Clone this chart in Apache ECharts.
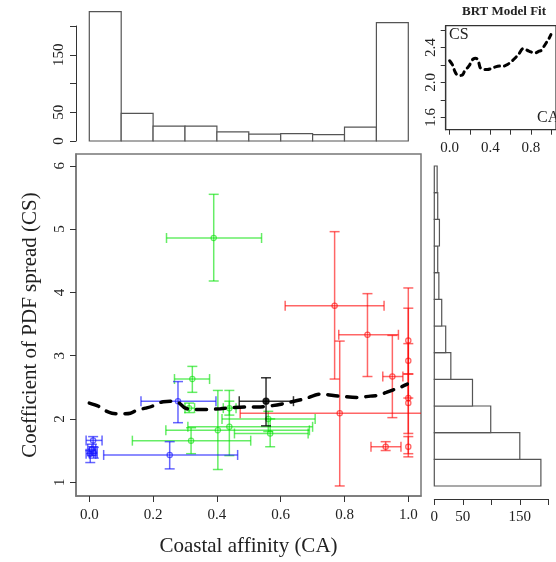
<!DOCTYPE html>
<html><head><meta charset="utf-8">
<script src="https://cdn.jsdelivr.net/npm/echarts@6/dist/echarts.min.js"></script>
<style>html,body{margin:0;padding:0;background:#fff}#c{width:556px;height:562px}</style>
</head><body><div id="c"></div>
<script>
// ---- data ----
// rows: [CA, CS, CA low, CA high, CS low, CS high]
const greenPoints = [
  [0.390, 4.86, 0.242, 0.540, 4.18, 5.55],
  [0.323, 2.63, 0.267, 0.377, 2.42, 2.83],
  [0.319, 1.656, 0.135, 0.506, 1.45, 1.86],
  [0.403, 1.82, 0.240, 0.690, 1.20, 2.45],
  [0.439, 1.875, 0.309, 0.700, 1.42, 2.45],
  [0.439, 2.17, 0.420, 0.460, 2.06, 2.28],
  [0.561, 2.00, 0.416, 0.708, 1.80, 2.12],
  [0.567, 1.77, 0.455, 0.686, 1.56, 2.00],
  [0.313, 2.17, 0.300, 0.330, 2.10, 2.25]
];
const bluePoints = [
  [0.278, 2.28, 0.162, 0.397, 1.94, 2.59],
  [0.252, 1.43, 0.045, 0.465, 1.21, 1.64],
  [0.012, 1.66, -0.010, 0.040, 1.56, 1.72],
  [0.008, 1.52, -0.005, 0.020, 1.42, 1.60],
  [0.003, 1.45, -0.010, 0.020, 1.31, 1.50],
  [0.014, 1.46, 0.000, 0.025, 1.38, 1.55]
];
const blackPoints = [
  [0.554, 2.28, 0.470, 0.640, 1.89, 2.65]
];
const redPoints = [
  [0.769, 3.79, 0.614, 0.924, 2.63, 4.96],
  [0.872, 3.33, 0.782, 0.969, 2.67, 3.98],
  [0.785, 2.09, 0.473, 1.200, 0.94, 3.23],
  [0.950, 2.67, 0.920, 0.983, 2.02, 3.32],
  [0.929, 1.56, 0.883, 0.977, 1.50, 1.64],
  [1.000, 3.24, 1.000, 1.000, 2.71, 4.07],
  [1.000, 2.92, 1.000, 1.000, 2.33, 3.75],
  [1.000, 2.33, 1.000, 1.000, 1.77, 3.19],
  [1.000, 2.25, 1.000, 1.000, 1.45, 2.71],
  [1.000, 1.56, 1.000, 1.000, 1.40, 1.72]
];
// BRT model fit curve
const fitCA = [0, 0.029, 0.05, 0.071, 0.097, 0.129, 0.15, 0.176, 0.197, 0.21, 0.232, 0.254, 0.279, 0.301, 0.332, 0.37, 0.411, 0.451, 0.495, 0.536, 0.574, 0.608, 0.652, 0.677, 0.724, 0.781, 0.84, 0.881, 0.903, 0.931, 0.953, 0.975, 0.997];
const fitCS = [2.25, 2.20, 2.13, 2.09, 2.08, 2.09, 2.14, 2.17, 2.20, 2.24, 2.27, 2.28, 2.26, 2.17, 2.15, 2.15, 2.16, 2.18, 2.19, 2.19, 2.21, 2.24, 2.29, 2.32, 2.39, 2.36, 2.34, 2.36, 2.37, 2.42, 2.46, 2.50, 2.55];
// top histogram (CA)
const topBinEdges = [0, 0.1, 0.2, 0.3, 0.4, 0.5, 0.6, 0.7, 0.8, 0.9, 1.0];
const topCounts = [225, 48, 26, 26, 16, 12, 13, 11, 24, 206];
// right histogram (CS), bins from bottom to top
const rightCounts = [187, 150, 99, 67, 29, 20, 13, 8, 6, 9, 6, 5];
// ticks
const mainXTicks = [0, 0.2, 0.4, 0.6, 0.8, 1.0];
const mainYTicks = [1, 2, 3, 4, 5, 6];
const topHistTicks = [0, 50, 100, 150, 200];
const topHistLabels = [0, 50, 150];
const rightHistTicks = [0, 50, 100, 150, 200];
const rightHistLabels = [0, 50, 150];
const insetXTicks = [0, 0.2, 0.4, 0.6, 0.8, 1.0];
const insetXLabels = [0, 0.4, 0.8];
const insetYTicks = [1.6, 1.8, 2.0, 2.2, 2.4, 2.6];
const insetYLabels = [1.6, 2.0, 2.4];

// ---- chart ----
const SERIF = 'Liberation Serif, DejaVu Serif, serif';
const chart = echarts.init(document.getElementById('c'));

function errBar(color, filled) {
  return function (params, api) {
    const cs = params.coordSys;
    const x = api.value(0), y = api.value(1);
    const xl = api.value(2), xh = api.value(3), yl = api.value(4), yh = api.value(5);
    const p = api.coord([x, y]);
    const L = api.coord([xl, y]), H = api.coord([xh, y]);
    const B = api.coord([x, yl]), T = api.coord([x, yh]);
    const minX = cs.x, maxX = cs.x + cs.width, minY = cs.y, maxY = cs.y + cs.height;
    const st = { stroke: color, lineWidth: 1.5, fill: null };
    const ch = [];
    const cap = 5;
    const y1 = Math.max(minY, Math.min(maxY, T[1])), y2 = Math.max(minY, Math.min(maxY, B[1]));
    ch.push({ type: 'line', shape: { x1: p[0], y1: y1, x2: p[0], y2: y2 }, style: st });
    if (T[1] >= minY) ch.push({ type: 'line', shape: { x1: p[0] - cap, y1: T[1], x2: p[0] + cap, y2: T[1] }, style: st });
    if (B[1] <= maxY) ch.push({ type: 'line', shape: { x1: p[0] - cap, y1: B[1], x2: p[0] + cap, y2: B[1] }, style: st });
    if (H[0] - L[0] > 0.5) {
      const x1 = Math.max(minX, L[0]), x2 = Math.min(maxX, H[0]);
      ch.push({ type: 'line', shape: { x1: x1, y1: p[1], x2: x2, y2: p[1] }, style: st });
      if (L[0] >= minX) ch.push({ type: 'line', shape: { x1: L[0], y1: p[1] - cap, x2: L[0], y2: p[1] + cap }, style: st });
      if (H[0] <= maxX) ch.push({ type: 'line', shape: { x1: H[0], y1: p[1] - cap, x2: H[0], y2: p[1] + cap }, style: st });
    }
    ch.push({ type: 'circle', shape: { cx: p[0], cy: p[1], r: filled ? 3 : 2.6 },
      style: { stroke: color, lineWidth: 1.3, fill: filled ? color : 'rgba(255,255,255,0)' } });
    return { type: 'group', children: ch };
  };
}

function topHistRender(params, api) {
  const i = params.dataIndex;
  const a = api.coord([topBinEdges[i], topCounts[i]]);
  const b = api.coord([topBinEdges[i + 1], 0]);
  return { type: 'rect', shape: { x: a[0], y: a[1], width: b[0] - a[0], height: b[1] - a[1] },
    style: { fill: '#fff', stroke: '#555', lineWidth: 1.2 } };
}
function rightHistRender(params, api) {
  const i = params.dataIndex;
  const a = api.coord([0, i + 1]);
  const b = api.coord([rightCounts[i], i]);
  return { type: 'rect', shape: { x: a[0], y: a[1], width: b[0] - a[0], height: b[1] - a[1] },
    style: { fill: '#fff', stroke: '#555', lineWidth: 1.2 } };
}

const tickStyle = { lineStyle: { color: '#333', width: 1 } };
const labelBase = { fontFamily: SERIF, fontSize: 15, color: '#222' };
const frameLine = { show: true, onZero: false, lineStyle: { color: '#777', width: 1.5 } };
const insetLine = { show: true, onZero: false, lineStyle: { color: '#333', width: 1.2 } };

const option = {
  animation: false,
  backgroundColor: '#fff',
  grid: [
    { left: 76, top: 154, width: 345, height: 346, show: true, borderColor: '#777', borderWidth: 1.5, backgroundColor: 'transparent' },
    { left: 76, top: 26, width: 345, height: 115 },
    { left: 434.3, top: 166, width: 114, height: 320 },
    { left: 445.7, top: 25.7, width: 120, height: 104, show: true, borderColor: '#333', borderWidth: 1.2, backgroundColor: 'transparent' }
  ],
  xAxis: [
    { gridIndex: 0, type: 'value', min: -0.0417, max: 1.0398, splitLine: { show: false },
      axisLine: frameLine,
      axisTick: { show: true, customValues: mainXTicks, length: 6, ...tickStyle },
      axisLabel: { ...labelBase, customValues: mainXTicks, margin: 12, formatter: v => v.toFixed(1) },
      name: 'Coastal affinity (CA)', nameLocation: 'middle', nameGap: 40,
      nameTextStyle: { fontFamily: SERIF, fontSize: 21, color: '#222' } },
    { gridIndex: 1, type: 'value', min: -0.0417, max: 1.0398, show: false, axisLine: { onZero: false } },
    { gridIndex: 2, type: 'value', min: 0, max: 200, position: 'bottom', offset: 13, splitLine: { show: false },
      axisLine: { show: true, onZero: false, lineStyle: { color: '#333', width: 1 } },
      axisTick: { show: true, customValues: rightHistTicks, length: 6, ...tickStyle },
      axisLabel: { ...labelBase, customValues: rightHistLabels, margin: 11 } },
    { gridIndex: 3, type: 'value', min: -0.039, max: 1.047, splitLine: { show: false },
      axisLine: insetLine,
      axisTick: { show: true, customValues: insetXTicks, length: 5, ...tickStyle },
      axisLabel: { ...labelBase, customValues: insetXLabels, margin: 11, formatter: v => v.toFixed(1) } }
  ],
  yAxis: [
    { gridIndex: 0, type: 'value', min: 0.78125, max: 6.1875, splitLine: { show: false },
      axisLine: frameLine,
      axisTick: { show: true, customValues: mainYTicks, length: 6, ...tickStyle },
      axisLabel: { ...labelBase, customValues: mainYTicks, rotate: 90, margin: 8 },
      name: 'Coefficient of PDF spread (CS)', nameLocation: 'middle', nameGap: 35,
      nameTextStyle: { fontFamily: SERIF, fontSize: 21, color: '#222' } },
    { gridIndex: 1, type: 'value', min: 0, max: 200, splitLine: { show: false },
      axisLine: { show: true, onZero: false, lineStyle: { color: '#333', width: 1 } },
      axisTick: { show: true, customValues: topHistTicks, length: 6, ...tickStyle },
      axisLabel: { ...labelBase, customValues: topHistLabels, rotate: 90, margin: 9 } },
    { gridIndex: 2, type: 'value', min: 0, max: rightCounts.length, show: false, axisLine: { onZero: false } },
    { gridIndex: 3, type: 'value', min: 1.457, max: 2.653, splitLine: { show: false },
      axisLine: insetLine,
      axisTick: { show: true, customValues: insetYTicks, length: 5, ...tickStyle },
      axisLabel: { ...labelBase, customValues: insetYLabels, rotate: 90, margin: 7, formatter: v => v.toFixed(1) } }
  ],
  graphic: [
    { type: 'text', left: 462, top: 5, style: { text: 'BRT Model Fit', font: 'bold 13px ' + SERIF, fill: '#222' } },
    { type: 'text', left: 449, top: 27, style: { text: 'CS', font: '16px ' + SERIF, fill: '#222' } },
    { type: 'text', left: 537, top: 110, style: { text: 'CA', font: '16px ' + SERIF, fill: '#222' } }
  ],
  series: [
    { type: 'custom', xAxisIndex: 1, yAxisIndex: 1, clip: false, renderItem: topHistRender,
      data: topCounts.map((c, i) => [topBinEdges[i], c]) },
    { type: 'custom', xAxisIndex: 2, yAxisIndex: 2, renderItem: rightHistRender,
      data: rightCounts.map((c, i) => [c, i]) },
    { type: 'custom', xAxisIndex: 0, yAxisIndex: 0, renderItem: errBar('rgba(0,225,0,0.6)', false), data: greenPoints, z: 3 },
    { type: 'custom', xAxisIndex: 0, yAxisIndex: 0, renderItem: errBar('rgba(20,20,255,0.65)', false), data: bluePoints, z: 3 },
    { type: 'custom', xAxisIndex: 0, yAxisIndex: 0, renderItem: errBar('rgba(255,0,0,0.6)', false), data: redPoints, z: 3 },
    { type: 'custom', xAxisIndex: 0, yAxisIndex: 0, renderItem: errBar('rgba(0,0,0,0.8)', true), data: blackPoints, z: 4 },
    { type: 'line', xAxisIndex: 0, yAxisIndex: 0, data: fitCA.map((v, i) => [v, fitCS[i]]), showSymbol: false, smooth: 0.3,
      lineStyle: { color: '#000', width: 3.5, type: [10, 9], cap: 'round' }, z: 5 },
    { type: 'line', xAxisIndex: 3, yAxisIndex: 3, data: fitCA.map((v, i) => [v, fitCS[i]]), showSymbol: false, smooth: 0.3,
      lineStyle: { color: '#000', width: 3, type: [5, 5], cap: 'round' }, z: 5 }
  ]
};
chart.setOption(option);
</script></body></html>
